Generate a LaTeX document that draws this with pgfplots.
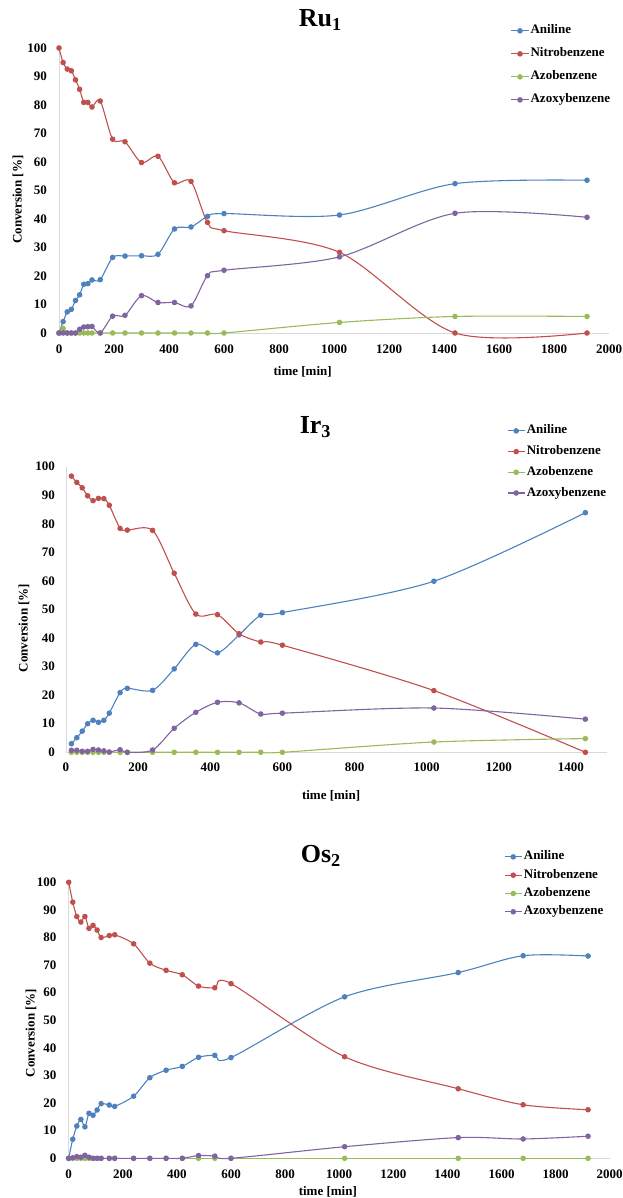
\documentclass[border=0pt]{standalone}
\usepackage{fontspec}
\setmainfont{Liberation Serif}
\usepackage{pgfplots}
\usepackage{pgfplotstable}
\pgfplotsset{compat=1.18}

\definecolor{cAni}{HTML}{4F81BD}
\definecolor{cNit}{HTML}{C0504D}
\definecolor{cAzo}{HTML}{9BBB59}
\definecolor{cAzx}{HTML}{8064A2}

% time [min], aniline, nitrobenzene, azobenzene, azoxybenzene (conversion %)
\pgfplotstableread{
t    ani  nit   azo azx
0    0    100   0   0
15   4.0  94.9  1.6 0
30   7.4  92.6  0   0
45   8.3  92.0  0   0
60   11.4 88.8  0   0
75   13.4 85.5  0   1.3
90   17.1 80.9  0   2.1
105  17.3 80.9  0   2.2
120  18.6 79.3  0   2.3
150  18.7 81.4  0   0
195  26.5 68.0  0   5.9
240  27.0 67.1  0   6.2
300  27.1 59.8  0   13.1
360  27.6 62.0  0   10.7
420  36.5 52.7  0   10.7
480  37.2 53.2  0   9.5
540  40.9 38.8  0   20.1
600  41.9 35.9  0   22.0
1020 41.4 28.3  3.7 26.7
1440 52.4 0     5.8 42.0
1920 53.6 0     5.8 40.6
}\ru

\pgfplotstableread{
t    ani  nit   azo azx
15   3.0  96.7  0   0.7
30   5.1  94.5  0   0.7
45   7.4  92.6  0   0.35
60   10.0 89.8  0   0.35
75   11.2 88.1  0   1.0
90   10.5 88.9  0   0.8
105  11.2 88.8  0   0.5
120  13.7 86.5  0   0.1
150  20.9 78.4  0   0.9
170  22.4 77.8  0   0
240  21.7 77.7  0   0.8
300  29.2 62.7  0   8.4
360  37.8 48.4  0   14.0
420  34.8 48.2  0   17.5
480  41.1 41.5  0   17.3
540  48.0 38.6  0   13.4
600  48.9 37.5  0   13.7
1020 59.9 21.6  3.6 15.5
1440 83.9 0     4.8 11.6
}\ir

\pgfplotstableread{
t    ani  nit   azo azx
0    0    100   0   0
15   6.9  92.8  0   0.2
30   11.7 87.6  0   0.6
45   14.1 85.6  0   0.4
60   11.4 87.6  0   1.1
75   16.3 83.3  0   0.4
90   15.6 84.4  0   0
105  17.5 82.7  0   0
120  19.8 80.0  0   0
150  19.3 80.7  0   0
170  18.8 81.0  0   0
240  22.5 77.7  0   0
300  29.2 70.7  0   0
360  31.9 68.1  0   0
420  33.3 66.5  0   0
480  36.6 62.4  0   1.0
540  37.3 61.8  0   0.8
600  36.5 63.3  0   0
1020 58.5 36.8  0   4.2
1440 67.3 25.2  0   7.5
1680 73.4 19.4  0   7.0
1920 73.3 17.6  0   8.0
}\os

\newcommand\lblfont{\bfseries\fontsize{13}{13}\selectfont}

\pgfplotsset{
  kin/.style={
    scale only axis, clip=false, anchor=south west,
    ymin=0, ymax=100, ytick={0,10,...,100},
    axis x line*=bottom, axis y line*=left,
    axis line style={draw=black!15, line width=0.8pt, -},
    major tick length=0pt,
    /pgf/number format/assume math mode=true,
    /pgf/number format/1000 sep={},
    tick label style={font=\lblfont},
    xticklabel style={anchor=north, inner sep=0pt},
    yticklabel style={anchor=east, inner sep=0pt},
    label style={font=\lblfont},
    xlabel={time [min]}, ylabel={Conversion [\%]},
    title style={font=\bfseries\fontsize{26}{26}\selectfont, anchor=base},
    legend style={draw=none, fill=none, inner sep=0pt, anchor=north west,
      font=\lblfont,
      nodes={inner xsep=1.5pt, inner ysep=0pt, text height=9pt, text depth=3pt}},
    legend cell align=left,
    every axis plot/.append style={smooth, line width=1.1pt, mark=*,
      mark size=2.2pt, mark options={solid}},
  },
}

\begin{document}
\begin{tikzpicture}
\path[use as bounding box] (0,0) rectangle (622pt,1198pt);

% Ru1
\begin{axis}[kin, at={(59pt,865pt)}, width=550pt, height=285pt,
  xmin=0, xmax=2000, xtick={0,200,...,2000},
  xticklabel style={yshift=-12pt}, yticklabel style={xshift=-12pt},
  xlabel style={at={([yshift=-38.4pt]axis description cs:0.443,0)}, anchor=center},
  ylabel style={at={([xshift=-41pt]axis description cs:0,0.468)}, anchor=center},
  title={Ru\textsubscript{1}},
  title style={at={([yshift=15pt]axis description cs:0.475,1)}},
  legend style={at={(axis description cs:0.8213,1.0818)}, row sep=11pt}]
\addplot[cAni] table[x=t,y=ani]{\ru};
\addplot[cNit] table[x=t,y=nit]{\ru};
\addplot[cAzo] table[x=t,y=azo]{\ru};
\addplot[cAzx] table[x=t,y=azx]{\ru};
\legend{Aniline,Nitrobenzene,Azobenzene,Azoxybenzene}
\end{axis}

% Ir3
\begin{axis}[kin, at={(66pt,445.7pt)}, width=541pt, height=285.6pt,
  xmin=0, xmax=1500, xtick={0,200,...,1400},
  xticklabel style={yshift=-10pt}, yticklabel style={xshift=-11pt},
  xlabel style={at={([yshift=-43.7pt]axis description cs:0.49,0)}, anchor=center},
  ylabel style={at={([xshift=-42pt]axis description cs:0,0.435)}, anchor=center},
  title={Ir\textsubscript{3}},
  title style={at={([yshift=26.7pt]axis description cs:0.461,1)}},
  legend style={at={(axis description cs:0.815,1.147)}, row sep=8.7pt}]
\addplot[cAni] table[x=t,y=ani]{\ir};
\addplot[cNit] table[x=t,y=nit]{\ir};
\addplot[cAzo] table[x=t,y=azo]{\ir};
\addplot[cAzx] table[x=t,y=azx]{\ir};
\legend{Aniline,Nitrobenzene,Azobenzene,Azoxybenzene}
\end{axis}

% Os2
\begin{axis}[kin, at={(68.7pt,39.7pt)}, width=541pt, height=276pt,
  xmin=0, xmax=2000, xtick={0,200,...,2000},
  xticklabel style={yshift=-11.7pt}, yticklabel style={xshift=-12pt},
  xlabel style={at={([yshift=-33.4pt]axis description cs:0.479,0)}, anchor=center},
  ylabel style={at={([xshift=-37.7pt]axis description cs:0,0.454)}, anchor=center},
  title={Os\textsubscript{2}},
  title style={at={([yshift=14pt]axis description cs:0.466,1)}},
  legend style={at={(axis description cs:0.8046,1.1145)}, row sep=6.3pt}]
\addplot[cAni] table[x=t,y=ani]{\os};
\addplot[cNit] table[x=t,y=nit]{\os};
\addplot[cAzo] table[x=t,y=azo]{\os};
\addplot[cAzx] table[x=t,y=azx]{\os};
\legend{Aniline,Nitrobenzene,Azobenzene,Azoxybenzene}
\end{axis}
\end{tikzpicture}
\end{document}
